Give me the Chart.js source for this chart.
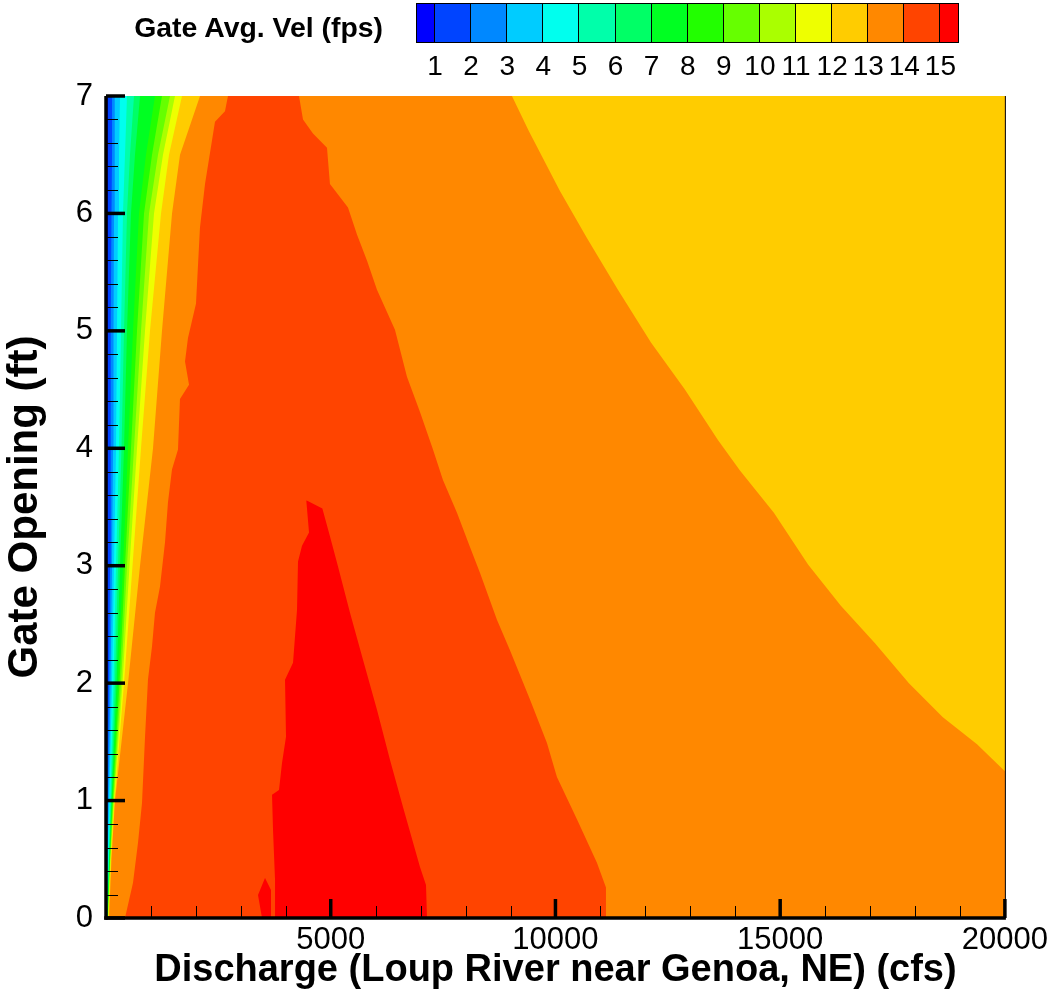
<!DOCTYPE html>
<html>
<head>
<meta charset="utf-8">
<title>Gate Avg. Vel</title>
<script src="https://cdn.jsdelivr.net/npm/chart.js"></script>
<style>
  body { margin: 0; background: #fff; }
  #wrap { position: relative; width: 1052px; height: 993px; overflow: hidden; }
  #chart { position: absolute; left: 0; top: 0; }
  #cbTitle {
    position: absolute; left: 0; top: 10px; width: 383px; text-align: right;
    font: bold 28.4px "Liberation Sans", Arial, sans-serif; line-height: 34px; color: #000;
  }
  #cbBar {
    position: absolute; left: 416px; top: 3px; height: 38px;
    display: flex; border: 1px solid #000;
  }
  #cbBar div { height: 100%; box-sizing: border-box; border-right: 1px solid #000; }
  #cbBar div:last-child { border-right: none; }
  .cbLabel {
    position: absolute; top: 50px; transform: translateX(-50%);
    font: 28px "Liberation Sans", Arial, sans-serif; line-height: 32px; color: #000;
  }
</style>
</head>
<body>
<div id="wrap">
  <canvas id="chart" width="1052" height="993"></canvas>
  <div id="cbTitle">Gate Avg. Vel (fps)</div>
  <div id="cbBar"></div>
</div>
<script>
// axis ranges and tick labels
const xTicks = [5000, 10000, 15000, 20000];
const yTicks = [0, 1, 2, 3, 4, 5, 6, 7];
const X_MAX = 20000;
const Y_MAX = 7;

// contour levels (fps) and the colour of each band (below 1, 1-2, ... above 15)
const levels = [1, 2, 3, 4, 5, 6, 7, 8, 9, 10, 11, 12, 13, 14, 15];
const bandColors = ['#0000ff', '#0044ff', '#0088ff', '#00ccff', '#00ffee', '#00ffaa', '#00ff66', '#00ff22',
  '#22ff00', '#66ff00', '#aaff00', '#eeff00', '#ffcc00', '#ff8800', '#ff4400', '#ff0000'];

// thin bands on the left: discharge (cfs) where each level is reached, per gate opening (ft)
const leftBandY = [0, 0.5, 1, 2, 3, 4, 5, 6, 6.5, 7];
const lev01X = [4, 11, 18, 27, 33, 40, 45, 45, 45, 45];
const lev02X = [9, 22, 40, 67, 89, 100, 111, 122, 134, 134];
const lev03X = [13, 33, 58, 100, 134, 156, 167, 178, 189, 200];
const lev04X = [18, 45, 76, 134, 178, 223, 245, 267, 289, 312];
const lev05X = [22, 56, 93, 167, 223, 289, 334, 378, 423, 467];
const lev06X = [27, 65, 111, 200, 267, 345, 401, 467, 534, 623];
const lev07X = [31, 73, 125, 234, 312, 401, 467, 556, 645, 757];
const lev08X = [36, 82, 138, 267, 378, 490, 601, 734, 890, 1090];
const lev09X = [40, 89, 151, 300, 423, 556, 690, 846, 1024, 1246];
const lev10X = [45, 96, 165, 334, 467, 623, 779, 957, 1157, 1424];
const lev11X = [49, 102, 178, 367, 523, 690, 868, 1068, 1268, 1535];
const lev12X = [56, 111, 189, 401, 590, 779, 979, 1224, 1402, 1691];
const lev13X = [67, 122, 200, 490, 757, 1046, 1246, 1469, 1647, 2092];

// 14 fps contour, rising side
const lev14LeftY = [0, 0.30, 0.64, 0.98, 1.54, 2.03, 2.31, 2.60, 2.82, 3.20, 3.54, 3.82, 3.99, 4.42, 4.54, 4.74, 4.94, 5.23, 5.88, 6.25, 6.78, 6.87, 7];
const lev14LeftX = [423, 601, 712, 801, 868, 934, 1023, 1090, 1201, 1313, 1379, 1468, 1602, 1646, 1847, 1758, 1824, 2002, 2091, 2203, 2425, 2647, 2714];

// small 15 fps patch near the bottom
const blobLeftY = [0, 0.196, 0.341];
const blobLeftX = [3471, 3382, 3538];
const blobRightY = [0, 0.239, 0.341];
const blobRightX = [3671, 3671, 3538];

// 15 fps contour (red wedge)
const lev15LeftY = [0, 0.324, 0.750, 1.049, 1.091, 1.321, 1.543, 2.029, 2.174, 2.626, 3.035, 3.171, 3.282, 3.557];
const lev15LeftX = [3761, 3761, 3716, 3694, 3849, 3916, 4005, 3983, 4161, 4250, 4272, 4361, 4517, 4456];
const lev15RightY = [0, 0.281, 0.435, 0.946, 1.347, 1.773, 2.200, 2.600, 2.993, 3.248, 3.487, 3.557];
const lev15RightX = [7142, 7120, 6986, 6608, 6318, 6029, 5718, 5429, 5162, 4984, 4814, 4456];

// 14 fps contour, falling side
const lev14RightY = [0, 0.26, 0.47, 0.84, 1.20, 1.49, 1.86, 2.28, 2.54, 2.94, 3.16, 3.45, 3.73, 3.99, 4.31, 4.61, 5.01, 5.35, 5.60, 5.82, 6.05, 6.25, 6.56, 6.68, 6.80, 7];
const lev14RightX = [11124, 11124, 10923, 10478, 10033, 9811, 9433, 8988, 8698, 8320, 8098, 7809, 7497, 7275, 6986, 6696, 6429, 6029, 5806, 5584, 5384, 4983, 4917, 4605, 4383, 4294];

// 13 fps contour, falling side
const lev13RightY = [1.25, 1.48, 1.71, 2.00, 2.34, 2.66, 3.01, 3.45, 3.81, 4.07, 4.50, 4.90, 5.35, 5.79, 6.19, 6.70, 7];
const lev13RightX = [20000, 19380, 18620, 17865, 17110, 16350, 15620, 14860, 14105, 13615, 12880, 12125, 11390, 10700, 10100, 9410, 9032];

function toPoints(ys, xs) {
  return ys.map((y, i) => ({ x: xs[i], y: y }));
}

// painted in this order; 'edge' fills run to the right edge, 'pair' fills close onto the next curve
const layers = [
  { y: [0, Y_MAX], x: [0, 0], band: 0, fill: 'edge' },
  { y: leftBandY, x: lev01X, band: 1, fill: 'edge' },
  { y: leftBandY, x: lev02X, band: 2, fill: 'edge' },
  { y: leftBandY, x: lev03X, band: 3, fill: 'edge' },
  { y: leftBandY, x: lev04X, band: 4, fill: 'edge' },
  { y: leftBandY, x: lev05X, band: 5, fill: 'edge' },
  { y: leftBandY, x: lev06X, band: 6, fill: 'edge' },
  { y: leftBandY, x: lev07X, band: 7, fill: 'edge' },
  { y: leftBandY, x: lev08X, band: 8, fill: 'edge' },
  { y: leftBandY, x: lev09X, band: 9, fill: 'edge' },
  { y: leftBandY, x: lev10X, band: 10, fill: 'edge' },
  { y: leftBandY, x: lev11X, band: 11, fill: 'edge' },
  { y: leftBandY, x: lev12X, band: 12, fill: 'edge' },
  { y: leftBandY, x: lev13X, band: 13, fill: 'edge' },
  { y: lev14LeftY, x: lev14LeftX, band: 14, fill: 'edge' },
  { y: blobLeftY, x: blobLeftX, band: 15, fill: 'pair' },
  { y: blobRightY, x: blobRightX, band: 15, fill: 'none' },
  { y: lev15LeftY, x: lev15LeftX, band: 15, fill: 'pair' },
  { y: lev15RightY, x: lev15RightX, band: 15, fill: 'none' },
  { y: lev14RightY, x: lev14RightX, band: 13, fill: 'edge' },
  { y: lev13RightY, x: lev13RightX, band: 12, fill: 'edge' }
];

const datasets = layers.map((l, i) => ({
  data: toPoints(l.y, l.x),
  backgroundColor: bandColors[l.band],
  borderWidth: 0,
  pointRadius: 0,
  tension: 0,
  fill: l.fill === 'edge' ? { value: X_MAX } : (l.fill === 'pair' ? '+1' : false),
  order: 100 - i
}));

// inward tick marks and axis lines, drawn over the filled contours
const inwardTicks = {
  id: 'inwardTicks',
  afterDatasetsDraw(chart) {
    const { ctx, chartArea: a, scales: { x, y } } = chart;
    const seg = (x1, y1, x2, y2) => { ctx.beginPath(); ctx.moveTo(x1, y1); ctx.lineTo(x2, y2); ctx.stroke(); };
    ctx.save();
    ctx.strokeStyle = '#000';
    ctx.lineWidth = 1;
    for (let v = 1000; v < X_MAX; v += 1000) {
      if (v % 5000 === 0) continue;
      const px = Math.round(x.getPixelForValue(v)) + 0.5;
      seg(px, a.bottom, px, a.bottom - 12);
    }
    for (let k = 1; k < Y_MAX * 5; k++) {
      if (k % 5 === 0) continue;
      const py = Math.round(y.getPixelForValue(k / 5)) + 0.5;
      seg(a.left, py, a.left + 12, py);
    }
    ctx.lineWidth = 3.5;
    xTicks.forEach(v => {
      const px = x.getPixelForValue(v);
      seg(px, a.bottom, px, a.bottom - 19);
    });
    yTicks.forEach(v => {
      const py = y.getPixelForValue(v);
      seg(a.left, py, a.left + 19, py);
    });
    ctx.lineWidth = 1;
    seg(a.right + 0.5, a.top, a.right + 0.5, a.bottom);
    ctx.lineWidth = 3.5;
    seg(a.left, a.top, a.left, a.bottom + 1.75);
    seg(a.left - 1.75, a.bottom, a.right + 1, a.bottom);
    ctx.restore();
  }
};

const tickFont = { family: '"Liberation Sans", Arial, sans-serif', size: 31 };

new Chart(document.getElementById('chart'), {
  type: 'line',
  data: { datasets: datasets },
  options: {
    indexAxis: 'y',
    responsive: false,
    animation: false,
    events: [],
    layout: { padding: { top: 96, right: 45, left: 0, bottom: 0 } },
    plugins: {
      legend: { display: false },
      tooltip: { enabled: false }
    },
    scales: {
      x: {
        type: 'linear',
        position: 'bottom',
        min: 0,
        max: X_MAX,
        afterBuildTicks: s => { s.ticks = xTicks.map(v => ({ value: v })); },
        afterFit: s => { s.height = 75; },
        grid: { display: false, drawTicks: false },
        border: { display: false },
        ticks: { color: '#000', font: tickFont, padding: 4, maxRotation: 0, autoSkip: false, callback: v => String(v) },
        title: {
          display: true,
          text: 'Discharge (Loup River near Genoa, NE) (cfs)',
          color: '#000',
          font: { family: '"Liberation Sans", Arial, sans-serif', size: 38, weight: 'bold' },
          padding: { top: 0, bottom: 0 }
        }
      },
      y: {
        type: 'linear',
        position: 'left',
        min: 0,
        max: Y_MAX,
        afterBuildTicks: s => { s.ticks = yTicks.map(v => ({ value: v })); },
        afterFit: s => { s.width = 106; },
        grid: { display: false, drawTicks: false },
        border: { display: false },
        ticks: { color: '#000', font: tickFont, padding: 13, autoSkip: false },
        title: {
          display: true,
          text: 'Gate Opening (ft)',
          color: '#000',
          font: { family: '"Liberation Sans", Arial, sans-serif', size: 42, weight: 'bold' },
          padding: { top: 0, bottom: 0 }
        }
      }
    }
  },
  plugins: [inwardTicks]
});

// colour bar legend
const bar = document.getElementById('cbBar');
const cellW = 36.1;
bandColors.forEach((c, i) => {
  const cell = document.createElement('div');
  const edge = i === 0 || i === bandColors.length - 1;
  cell.style.width = (edge ? cellW / 2 : cellW) + 'px';
  cell.style.background = c;
  bar.appendChild(cell);
});
const wrap = document.getElementById('wrap');
levels.forEach((lv, i) => {
  const lab = document.createElement('div');
  lab.className = 'cbLabel';
  lab.textContent = lv;
  lab.style.left = (417 + cellW / 2 + i * cellW) + 'px';
  wrap.appendChild(lab);
});
</script>
</body>
</html>
